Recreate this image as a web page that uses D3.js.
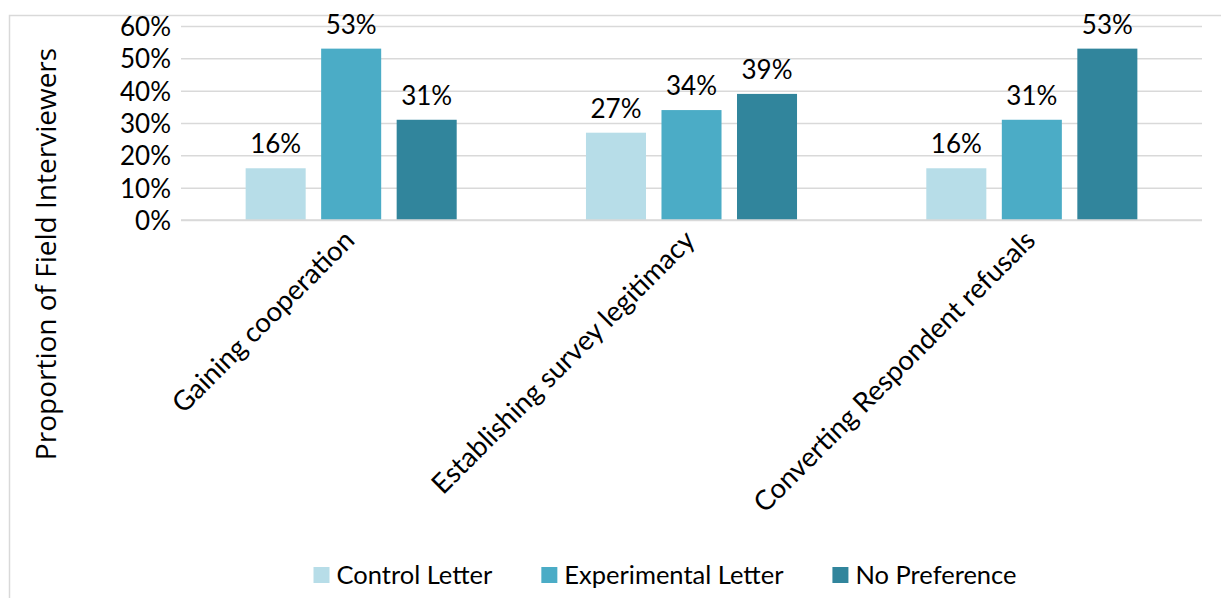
<!DOCTYPE html>
<html><head><meta charset="utf-8">
<script src="https://cdn.jsdelivr.net/npm/d3@7"></script>
<style>
html,body{margin:0;padding:0;background:#fff;}
svg text{fill:#000;}
</style></head>
<body>
<svg id="chart" width="1221" height="598" style="font-family:Lato,'Open Sans',sans-serif"></svg>
<script>
const categories = ["Gaining cooperation", "Establishing survey legitimacy", "Converting Respondent refusals"];
const seriesNames = ["Control Letter", "Experimental Letter", "No Preference"];
const controlLetter = [16, 27, 16];
const experimentalLetter = [53, 34, 31];
const noPreference = [31, 39, 53];
const yTicks = [0, 10, 20, 30, 40, 50, 60];
const colors = ["#b7dde8", "#4bacc6", "#31859c"];

(function () {
const seriesValues = [controlLetter, experimentalLetter, noPreference];
const svg = d3.select("#chart");

// frame
svg.append("rect").attr("x", 9.5).attr("y", 15.5).attr("width", 1230).attr("height", 600)
  .attr("fill", "none").attr("stroke", "#d9d9d9").attr("stroke-width", 1.5);

const pLeft = 181, pRight = 1202, pTop = 26, pBottom = 220;
const y = d3.scaleLinear().domain([0, 60]).range([pBottom, pTop]);
const x0 = d3.scaleBand().domain(categories).range([pLeft, pRight]).paddingInner(0).paddingOuter(0);
const x1 = d3.scaleBand().domain(seriesNames).range([0, x0.bandwidth()]).paddingInner(0.205).paddingOuter(0.856);

// gridlines
const yAxis = d3.axisLeft(y).tickValues(yTicks).tickSize(-(pRight - pLeft)).tickFormat(d => d + "%").tickPadding(10);
const ga = svg.append("g").attr("transform", `translate(${pLeft},0)`).call(yAxis);
ga.select(".domain").remove();
ga.selectAll(".tick line").attr("stroke", "#d9d9d9").attr("stroke-width", 1.5);
ga.selectAll(".tick text").attr("font-size", 26).attr("font-family", "Lato").attr("fill", "#000").attr("dy", "0.36em");

// bars
const groups = svg.append("g").selectAll("g").data(categories).join("g")
  .attr("transform", c => `translate(${x0(c)},0)`);
seriesNames.forEach((s, si) => {
  groups.append("rect")
    .attr("x", x1(s)).attr("width", x1.bandwidth())
    .attr("y", (c, ci) => y(seriesValues[si][ci]))
    .attr("height", (c, ci) => pBottom - y(seriesValues[si][ci]))
    .attr("fill", colors[si]);
  groups.append("text")
    .attr("x", x1(s) + x1.bandwidth() / 2)
    .attr("y", (c, ci) => y(seriesValues[si][ci]) - 15)
    .attr("text-anchor", "middle").attr("font-size", 26)
    .text((c, ci) => seriesValues[si][ci] + "%");
});
svg.append("line").attr("x1", pLeft).attr("x2", pRight).attr("y1", y(0)).attr("y2", y(0))
  .attr("stroke", "#d9d9d9").attr("stroke-width", 1.5);

// category labels
svg.append("g").selectAll("text").data(categories).join("text")
  .attr("transform", c => `translate(${x0(c) + x0.bandwidth() / 2 + 5},${pBottom + 22}) rotate(-45)`)
  .attr("text-anchor", "end").attr("font-size", 27.5)
  .text(c => c);

// axis title
svg.append("text").attr("transform", "translate(46,254) rotate(-90)")
  .attr("text-anchor", "middle").attr("dy", "0.35em").attr("font-size", 28)
  .style("font-family", "'Open Sans'")
  .text("Proportion of Field Interviewers");

// legend
const lg = svg.append("g");
const items = lg.selectAll("g").data(seriesNames).join("g");
items.append("rect").attr("width", 16).attr("height", 16).attr("y", -8).attr("fill", (d, i) => colors[i]);
items.append("text").attr("x", 23).attr("dy", "0.35em").attr("font-size", 25.5).text(d => d);
let xpos = 0;
const widths = [];
items.each(function () { widths.push(23 + this.querySelector("text").getComputedTextLength()); });
const gap = 49;
const total = widths.reduce((a, b) => a + b, 0) + gap * (widths.length - 1);
items.attr("transform", (d, i) => {
  const px = xpos; xpos += widths[i] + gap; return `translate(${px},0)`;
});
lg.attr("transform", `translate(${665 - total / 2},575)`);
})();
</script>
</body></html>
